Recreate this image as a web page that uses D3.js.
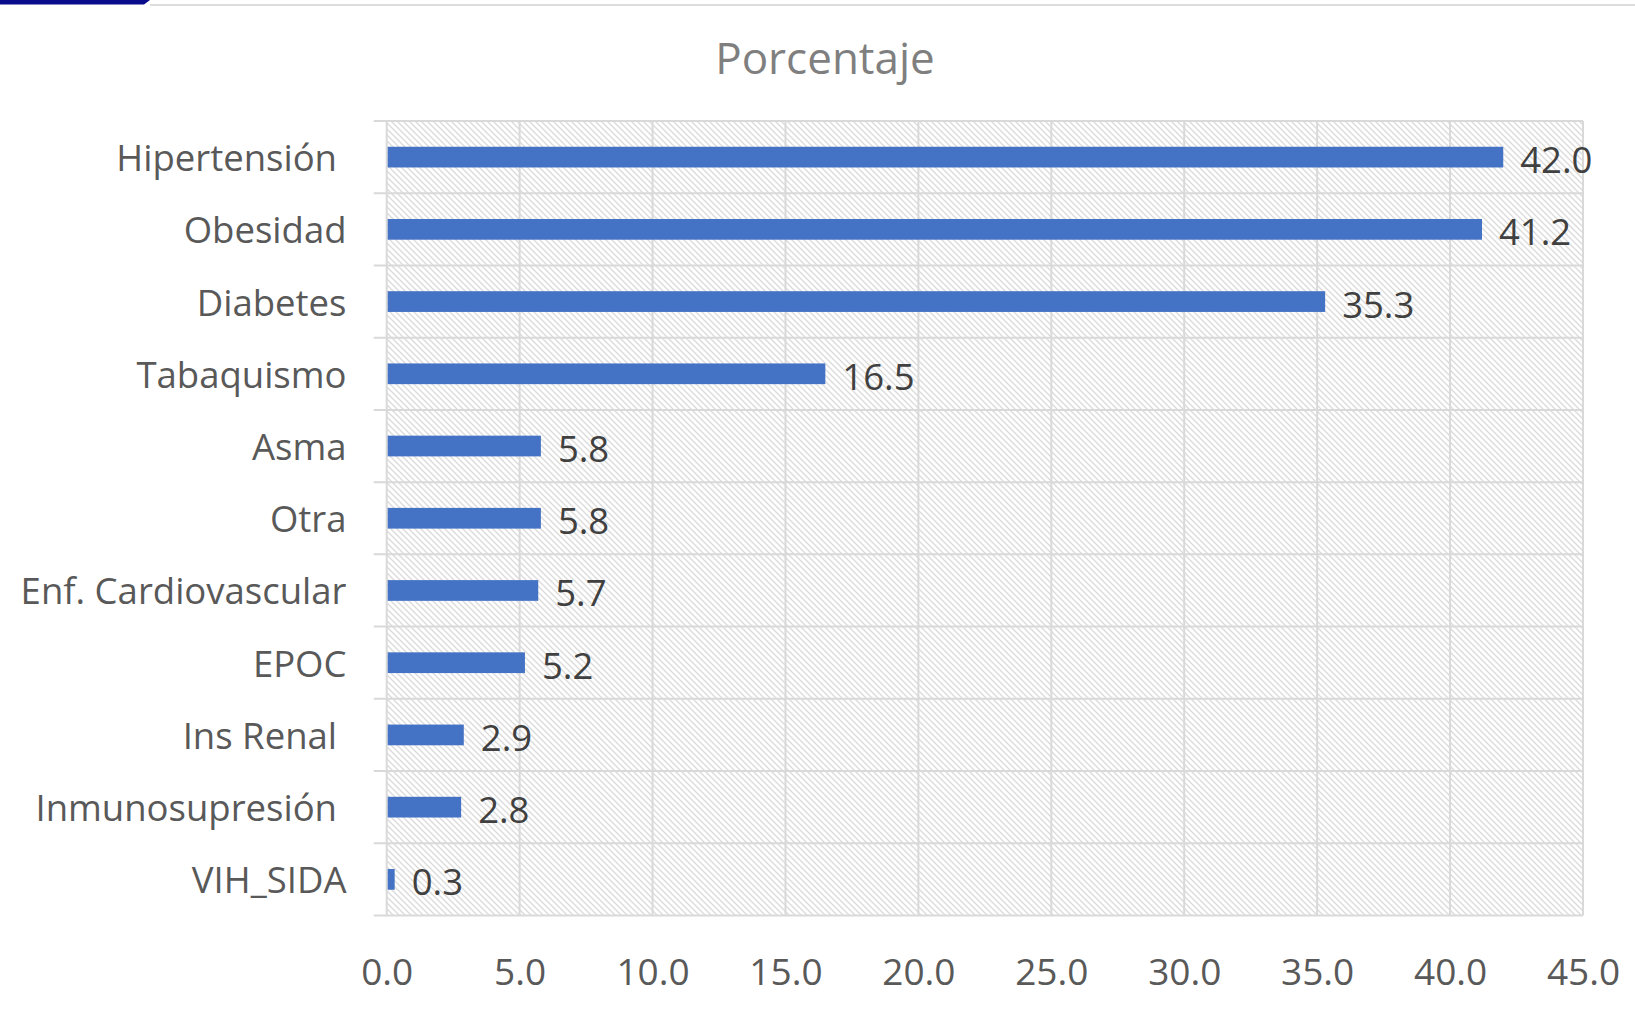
<!DOCTYPE html>
<html>
<head>
<meta charset="utf-8">
<script src="https://cdn.jsdelivr.net/npm/d3@7"></script>
<style>
  html, body { margin: 0; padding: 0; background: #fff; }
  svg text { font-family: "Open Sans", sans-serif; white-space: pre; }
</style>
</head>
<body>
<svg id="chart" width="1635" height="1009"></svg>
<script>
const title = "Porcentaje";
const categories = ["Hipertensión ", "Obesidad", "Diabetes", "Tabaquismo", "Asma", "Otra",
  "Enf. Cardiovascular", "EPOC", "Ins Renal ", "Inmunosupresión ", "VIH_SIDA"];
const values = [42.0, 41.2, 35.3, 16.5, 5.8, 5.8, 5.7, 5.2, 2.9, 2.8, 0.3];
const xTicks = [0, 5, 10, 15, 20, 25, 30, 35, 40, 45];

const svg = d3.select("#chart");
const plot = { left: 386.7, right: 1583, top: 121, bottom: 915.5 };

const x = d3.scaleLinear().domain([0, 45]).range([plot.left, plot.right]);
const y = d3.scaleBand().domain(categories).range([plot.top, plot.bottom]).padding(0);
const bw = y.bandwidth();
const barH = bw * 0.287;

// top decoration
svg.append("path").attr("d", "M0,0 H150 L144,4.5 H0 Z").attr("fill", "#0a0a8c");
svg.append("rect").attr("x", 150).attr("y", 4).attr("width", 1485).attr("height", 2).attr("fill", "#dcdcdc");

// hatch pattern
const defs = svg.append("defs");
const pat = defs.append("pattern").attr("id", "hatch").attr("patternUnits", "userSpaceOnUse")
  .attr("width", 6).attr("height", 6);
pat.append("rect").attr("width", 6).attr("height", 6).attr("fill", "#ffffff");
pat.append("path").attr("d", "M-1,-1 L7,7 M-1,5 L1,7 M5,-1 L7,1")
  .attr("stroke", "#dadada").attr("stroke-width", 1.3);

svg.append("rect").attr("x", plot.left).attr("y", plot.top)
  .attr("width", plot.right - plot.left).attr("height", plot.bottom - plot.top)
  .attr("fill", "url(#hatch)");

// vertical gridlines
svg.append("g").selectAll("line").data(xTicks).join("line")
  .attr("x1", d => x(d)).attr("x2", d => x(d))
  .attr("y1", plot.top).attr("y2", plot.bottom)
  .attr("stroke", "#d9d9d9").attr("stroke-width", 2);

// horizontal separators
const bounds = categories.map(c => y(c)).concat([plot.bottom]);
svg.append("g").selectAll("line").data(bounds).join("line")
  .attr("x1", plot.left - 13).attr("x2", plot.right)
  .attr("y1", d => d).attr("y2", d => d)
  .attr("stroke", "#d9d9d9").attr("stroke-width", 2);

// bars
svg.append("g").selectAll("rect").data(values).join("rect")
  .attr("x", x(0) + 1)
  .attr("y", (d, i) => y(categories[i]) + bw / 2 - barH / 2)
  .attr("width", d => x(d) - x(0) - 1)
  .attr("height", barH)
  .attr("fill", "#4472C4");

// value labels
svg.append("g").selectAll("text").data(values).join("text")
  .attr("x", d => x(d) + 17)
  .attr("y", (d, i) => y(categories[i]) + bw / 2 + 2)
  .attr("dominant-baseline", "central")
  .attr("font-size", 36.5)
  .attr("fill", "#404040")
  .text(d => d.toFixed(1));

// category labels
svg.append("g").selectAll("text").data(categories).join("text")
  .attr("x", 346.5)
  .attr("y", d => y(d) + bw / 2)
  .attr("text-anchor", "end")
  .attr("dominant-baseline", "central")
  .attr("font-size", 36.5)
  .attr("fill", "#595959")
  .text(d => d);

// x axis
const xAxis = d3.axisBottom(x).tickValues(xTicks).tickFormat(d3.format(".1f")).tickSize(0).tickPadding(0);
const gx = svg.append("g").attr("transform", `translate(0, 985)`).call(xAxis);
gx.select(".domain").remove();
gx.selectAll("text")
  .attr("y", 0).attr("dy", 0)
  .attr("font-size", 37)
  .attr("fill", "#595959")
  .style("font-family", "'Open Sans', sans-serif");

// title
svg.append("text").attr("x", 825).attr("y", 73.5)
  .attr("text-anchor", "middle")
  .attr("font-size", 44)
  .attr("fill", "#7f7f7f")
  .text(title);
</script>
</body>
</html>
